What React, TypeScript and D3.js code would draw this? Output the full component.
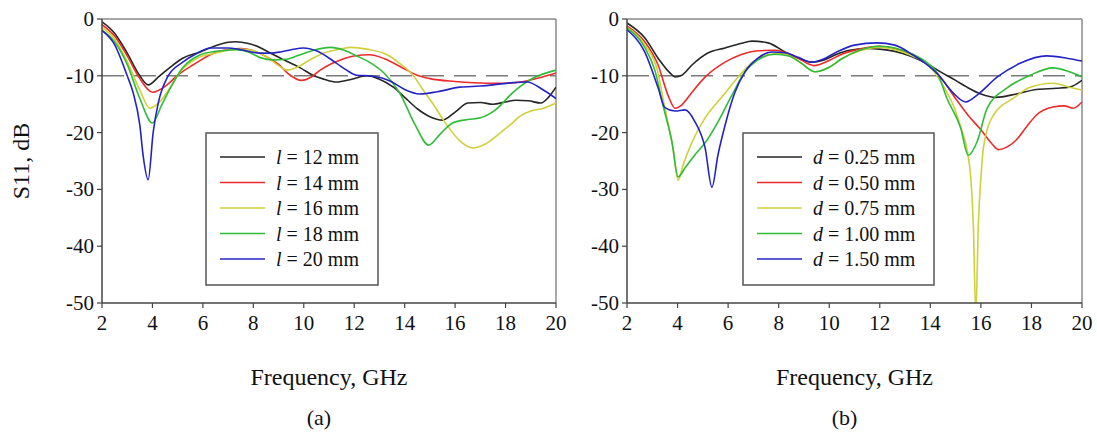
import React from "react";
import * as d3 from "d3";

type Pt = [number, number];

const FREQ_TICKS = [2, 4, 6, 8, 10, 12, 14, 16, 18, 20];
const DB_TICKS = [0, -10, -20, -30, -40, -50];
const THRESHOLD = -10;

// Panel (a): slot length l
const L12: Pt[] = [[2,-0.5],[2.5,-2.5],[3,-6],[3.5,-10],[3.83,-11.6],[4.24,-10.2],[4.7,-8.5],[5.2,-6.9],[5.9,-5.8],[6.5,-4.7],[7,-4.1],[7.3,-4.0],[7.8,-4.3],[8.3,-5.1],[8.67,-6.0],[9.3,-7.4],[9.86,-8.6],[10.4,-10],[10.8,-10.6],[11.3,-11.1],[11.9,-10.6],[12.5,-10.0],[13,-10.6],[13.55,-12],[14,-13.8],[14.5,-15.8],[15,-17.2],[15.5,-17.8],[16,-16.4],[16.5,-14.8],[17,-14.7],[17.5,-15],[18,-14.6],[18.4,-14.3],[18.9,-14.4],[19.4,-14.8],[19.7,-13.8],[20,-12]];
const L14: Pt[] = [[2,-1],[2.5,-3],[3,-6.5],[3.5,-10.5],[4.0,-12.9],[4.58,-11.6],[5.0,-9.9],[5.6,-8.1],[6.55,-5.8],[7,-5.4],[7.5,-5.2],[8,-5.6],[8.5,-6.6],[9,-8],[9.46,-9.9],[9.9,-10.8],[10.3,-10.2],[10.65,-9.0],[11.45,-7.2],[12,-6.5],[12.6,-6.3],[13.2,-7],[14,-8.8],[14.5,-9.9],[15,-10.5],[16,-11],[17.3,-11.3],[18,-11.3],[18.6,-11.1],[19.3,-10.4],[20,-9.5]];
const L16: Pt[] = [[2,-1.5],[2.5,-3.5],[3,-7.5],[3.5,-12.5],[3.9,-15.7],[4.2,-15.0],[4.58,-12.9],[5.1,-9.3],[5.77,-6.9],[6.5,-6],[7,-5.5],[7.5,-5.3],[8,-5.6],[8.5,-6.6],[9,-8.2],[9.34,-9.0],[9.7,-8.6],[10.2,-7.3],[10.8,-6],[11.45,-5.3],[11.85,-5.0],[12.5,-5.3],[13.3,-6.3],[13.8,-7.8],[14.35,-10],[14.7,-12.3],[15.1,-14.8],[15.6,-18.2],[16.2,-21.5],[16.7,-22.7],[17.2,-22],[17.8,-20],[18.3,-18.2],[18.6,-17],[19,-16.2],[19.5,-15.7],[20,-14.8]];
const L18: Pt[] = [[2,-2],[2.5,-4],[3,-8],[3.5,-14],[4.0,-18.3],[4.37,-15.1],[4.78,-11.6],[5.2,-8.6],[5.9,-6.3],[6.5,-5.7],[7,-5.5],[7.3,-5.4],[7.8,-5.8],[8.27,-6.8],[8.8,-7.2],[9.3,-7.1],[9.8,-6.4],[10.4,-5.5],[11.05,-5.0],[11.6,-5.5],[12.1,-6.5],[12.6,-7.6],[13.2,-9.6],[13.8,-13],[14.4,-18.5],[14.95,-22.2],[15.4,-20.3],[15.9,-18.3],[16.5,-17.7],[17,-17.4],[17.6,-16],[18.3,-12.9],[19.1,-10.4],[20,-9.0]];
const L20: Pt[] = [[2,-2],[2.5,-4.5],[3,-10],[3.23,-12.9],[3.5,-18.7],[3.63,-24],[3.83,-28.3],[4.03,-19.9],[4.24,-14.6],[4.6,-10.2],[5.2,-7.6],[5.7,-6.2],[6.3,-5.1],[7,-5.1],[7.5,-5.4],[8.27,-6.0],[8.67,-6.0],[9.07,-5.8],[9.5,-5.4],[10,-5.1],[10.5,-5.6],[11.3,-7.8],[11.7,-9],[12.1,-9.9],[12.6,-10.0],[13.1,-10.4],[13.5,-11.1],[14,-12.4],[14.6,-13.2],[15.3,-12.8],[16.2,-12],[17,-11.8],[17.5,-11.6],[18.3,-11.2],[18.85,-11.1],[19.5,-12.5],[20,-14.0]];

// Panel (b): parameter d
const D025: Pt[] = [[2,-0.7],[2.7,-3.3],[3.23,-6.9],[3.7,-9.5],[3.9,-10.2],[4.17,-9.9],[4.57,-8.1],[5.2,-6],[5.88,-5.1],[6.5,-4.3],[6.95,-3.9],[7.58,-4.2],[8.25,-5.8],[8.8,-6.9],[9.3,-7.6],[9.8,-7.2],[10.3,-6.2],[10.8,-5.5],[11.5,-5.2],[12,-5.3],[12.6,-5.7],[13.2,-6.5],[13.8,-7.7],[14.4,-9.3],[15,-10.8],[15.45,-12],[16,-13.2],[16.6,-13.8],[17.4,-13.2],[18.2,-12.4],[19,-12.2],[19.5,-12],[20,-10.8]];
const D050: Pt[] = [[2,-1.2],[2.7,-4],[3.23,-8.1],[3.62,-13.4],[3.9,-15.7],[4.17,-15.1],[4.57,-12.9],[5.1,-10.2],[5.88,-7.6],[6.5,-6.3],[7.18,-5.6],[7.85,-5.5],[8.76,-6.9],[9.4,-8.2],[10,-7.3],[10.5,-6.2],[11.2,-5.3],[12,-4.8],[12.6,-5.2],[13.3,-6.3],[13.9,-8],[14.4,-10.2],[15,-14],[15.5,-17],[16,-19.5],[16.4,-21.8],[16.7,-23],[17,-22.6],[17.4,-21.3],[17.8,-19],[18.2,-16.9],[18.85,-15.5],[19.3,-15.3],[19.65,-15.7],[20,-14.6]];
const D075: Pt[] = [[2,-1.5],[2.7,-4.5],[3.2,-9],[3.5,-15.7],[3.82,-22.7],[4.02,-28.4],[4.22,-25.7],[4.57,-21.7],[5.09,-17.4],[5.76,-13.7],[6.4,-10.2],[6.95,-7.7],[7.58,-6.3],[8.13,-6],[8.8,-7.5],[9.44,-9.3],[10,-8.5],[10.5,-7],[11.2,-5.6],[12,-5.0],[12.6,-5.4],[13.3,-6.5],[13.9,-8],[14.25,-9.9],[14.6,-12.5],[14.9,-15.1],[15.2,-19],[15.45,-23],[15.6,-28],[15.7,-36],[15.8,-52],[15.9,-36],[16.0,-28],[16.1,-22.7],[16.5,-16.9],[17.3,-13.9],[17.9,-12.1],[18.85,-11.3],[19.5,-12],[20,-12.5]];
const D100: Pt[] = [[2,-1.6],[2.7,-5],[3.1,-9],[3.42,-15.1],[3.78,-21.7],[4.02,-27.8],[4.3,-26.2],[4.69,-23.9],[5.09,-21.8],[5.6,-18.1],[6.15,-13.4],[6.67,-9.3],[7.18,-7.2],[7.85,-6.2],[8.4,-6.5],[8.9,-7.8],[9.44,-9.3],[10,-8.5],[10.5,-7],[11.2,-5.5],[12,-4.8],[12.6,-5.1],[13.3,-6.2],[13.9,-7.8],[14.3,-9.7],[14.65,-13.9],[15.2,-19.2],[15.5,-24],[15.85,-21.6],[16.25,-15.7],[17.05,-12.1],[17.95,-9.9],[18.85,-8.6],[19.5,-9.3],[20,-10.2]];
const D150: Pt[] = [[2,-1.9],[2.7,-5.8],[3.23,-12.1],[3.5,-15.6],[3.9,-16.2],[4.3,-16],[4.69,-18.1],[5.09,-22.7],[5.36,-29.6],[5.6,-23.9],[5.88,-18.7],[6.27,-12.9],[6.67,-9.3],[7.18,-6.9],[7.74,-5.8],[8.3,-6],[8.8,-6.8],[9.3,-7.6],[9.8,-7],[10.3,-5.8],[11,-4.6],[11.9,-4.2],[12.6,-4.6],[13.3,-6.3],[13.8,-7.8],[14.25,-9.5],[14.9,-13],[15.4,-14.6],[15.85,-13.4],[16.65,-10.2],[17.55,-7.8],[18.6,-6.5],[19.4,-6.9],[20,-7.4]];

const LEGEND_A = ["12", "14", "16", "18", "20"];
const LEGEND_B = ["0.25", "0.50", "0.75", "1.00", "1.50"];
const COLORS = ["#262626", "#ec2b2b", "#d0d03a", "#2fbd38", "#2424c4"];

const FONT = "'Liberation Serif', 'Times New Roman', serif";

interface PanelProps {
  id: string;
  x0: number;
  x1: number;
  series: Pt[][];
  varName: string;
  values: string[];
  legendX: number;
  legendW: number;
  caption: string;
  yTitle?: string;
}

function Panel({ id, x0, x1, series, varName, values, legendX, legendW, caption, yTitle }: PanelProps) {
  const y0 = 19, y1 = 303;
  const x = d3.scaleLinear().domain([2, 20]).range([x0, x1]);
  const y = d3.scaleLinear().domain([-50, 0]).range([y1, y0]);
  const line = d3.line<Pt>().x(d => x(d[0])).y(d => y(d[1])).curve(d3.curveMonotoneX);
  const legendTop = 133, legendH = 152;
  const rowY = (i: number) => 157 + i * 25.5;
  const midX = (x0 + x1) / 2;
  return (
    <g>
      <defs>
        <clipPath id={`clip-${id}`}>
          <rect x={x0} y={y0} width={x1 - x0} height={y1 - y0} />
        </clipPath>
      </defs>
      <line x1={x0} x2={x1} y1={y0} y2={y0} stroke="#8a8a8a" strokeWidth={1.5} />
      <line x1={x1} x2={x1} y1={y0} y2={y1} stroke="#8a8a8a" strokeWidth={1.5} />
      <line x1={x0} x2={x1} y1={y(THRESHOLD)} y2={y(THRESHOLD)} stroke="#7a7a7a" strokeWidth={1.5} strokeDasharray="22,10" />
      <rect x={legendX} y={legendTop} width={legendW} height={legendH} fill="#fff" stroke="#555" strokeWidth={1.5} />
      <g clipPath={`url(#clip-${id})`}>
        {series.map((s, i) => (
          <path key={i} d={line(s) || ""} fill="none" stroke={COLORS[i]} strokeWidth={1.6} />
        ))}
      </g>
      <line x1={x0} x2={x0} y1={y0} y2={y1} stroke="#444" strokeWidth={1.5} />
      <line x1={x0} x2={x1} y1={y1} y2={y1} stroke="#444" strokeWidth={1.5} />
      {DB_TICKS.map(t => (
        <g key={t}>
          <line x1={x0 - 5} x2={x0} y1={y(t)} y2={y(t)} stroke="#444" strokeWidth={1.2} />
          <text x={x0 - 8} y={y(t) + 7} textAnchor="end" fontSize={21} fontFamily={FONT} fill="#111">{t}</text>
        </g>
      ))}
      {FREQ_TICKS.map(t => (
        <g key={t}>
          <line x1={x(t)} x2={x(t)} y1={y1} y2={y1 + 5} stroke="#444" strokeWidth={1.2} />
          <text x={x(t)} y={330} textAnchor="middle" fontSize={21} fontFamily={FONT} fill="#111">{t}</text>
        </g>
      ))}
      <text x={midX} y={385} textAnchor="middle" fontSize={24} fontFamily={FONT} fill="#111">Frequency, GHz</text>
      <text x={midX - 10} y={425} textAnchor="middle" fontSize={22} fontFamily={FONT} fill="#111">{caption}</text>
      {yTitle && (
        <text transform={`translate(29,${(y0 + y1) / 2}) rotate(-90)`} textAnchor="middle" fontSize={24} fontFamily={FONT} fill="#111">{yTitle}</text>
      )}
      {values.map((v, i) => (
        <g key={v}>
          <line x1={legendX + 14} x2={legendX + 59} y1={rowY(i)} y2={rowY(i)} stroke={COLORS[i]} strokeWidth={1.6} />
          <text x={legendX + 70} y={rowY(i) + 7} fontSize={20} fontFamily={FONT} fill="#111">
            <tspan fontStyle="italic">{varName}</tspan> = {v} mm
          </text>
        </g>
      ))}
    </g>
  );
}

export default function App() {
  return (
    <svg width={1097} height={434} style={{ position: "absolute", left: 0, top: 0, background: "#fff" }}>
      <rect width={1097} height={434} fill="#fff" />
      <Panel id="a" x0={102} x1={556} series={[L12, L14, L16, L18, L20]} varName="l" values={LEGEND_A}
        legendX={206} legendW={172} caption="(a)" yTitle="S11, dB" />
      <Panel id="b" x0={627} x1={1082} series={[D025, D050, D075, D100, D150]} varName="d" values={LEGEND_B}
        legendX={743} legendW={191} caption="(b)" />
    </svg>
  );
}
